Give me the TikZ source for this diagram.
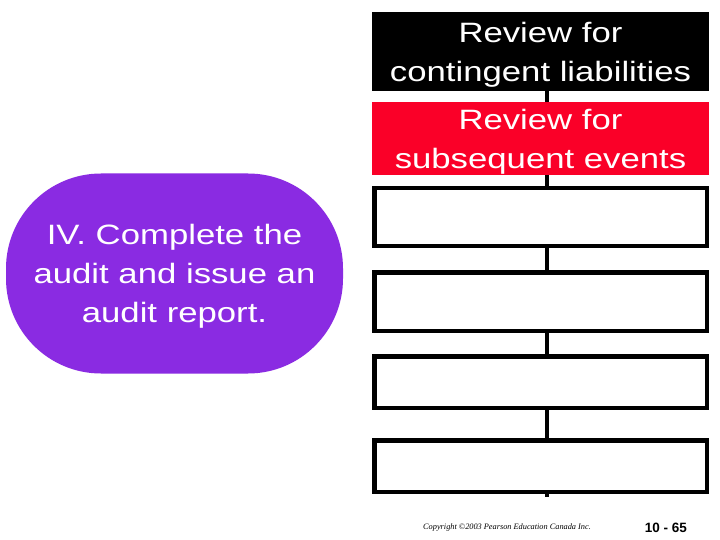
\documentclass[tikz,border=0pt]{standalone}
\usepackage{fontspec}
\usepackage{tikz}
\usetikzlibrary{positioning}
\newfontfamily\slidefont[FakeStretch=1.24]{Liberation Sans}
\newfontfamily\pagefont{Liberation Sans}
\newfontfamily\notefont{Liberation Serif}
\definecolor{reviewred}{RGB}{250, 0, 40}
\definecolor{stagepurple}{RGB}{138, 43, 226}

\begin{document}
\begin{tikzpicture}[x=1pt, y=-1pt,
    blankbox/.style={draw=black, line width=4.5pt, fill=white,
                     minimum width=332.5pt, inner sep=0pt},
    headbox/.style={minimum width=337pt, inner sep=0pt, text depth=0pt,
                    text=white, align=center,
                    font=\slidefont\fontsize{28}{39}\selectfont},
    link/.style={black, line width=4pt}]

  \useasboundingbox[fill=white] (0, 0) rectangle (720, 540);

  % review steps
  \node[headbox, fill=black, minimum height=79pt] (contingent) at (540.5, 51.5)
    {Review for\\contingent liabilities};
  \node[headbox, fill=reviewred, minimum height=73pt] (subsequent) at (540.5, 138.5)
    {Review for\\subsequent events};

  \foreach \y/\h [count=\n] in {217/57.5, 301.5/58.5, 382/51.5, 466/51.5} {
    \node[blankbox, minimum height=\h pt] (blank\n) at (540.5, \y) {};
  }

  % connectors
  \coordinate (tail) at (546.5, 497);
  \foreach \a/\b in {contingent/subsequent, subsequent/blank1, blank1/blank2,
                     blank2/blank3, blank3/blank4} {
    \draw[link] (\a.south -| tail) -- (\b.north -| tail);
  }
  \draw[link] (blank4.south -| tail) -- (tail);

  % stage
  \node[headbox, fill=stagepurple, rounded corners=95pt, minimum height=200pt]
    (stage) at (174.5, 273.5) {IV. Complete the\\audit and issue an\\audit report.};

  % footer
  \node[anchor=west, inner sep=0pt, font=\notefont\itshape\fontsize{8.3}{9}\selectfont]
    (copyright) at (423, 528) {Copyright ©2003 Pearson Education Canada Inc.};
  \node[inner sep=0pt, font=\pagefont\bfseries\fontsize{13.5}{15}\selectfont]
    (page) at (666, 528) {10 - 65};

\end{tikzpicture}
\end{document}
